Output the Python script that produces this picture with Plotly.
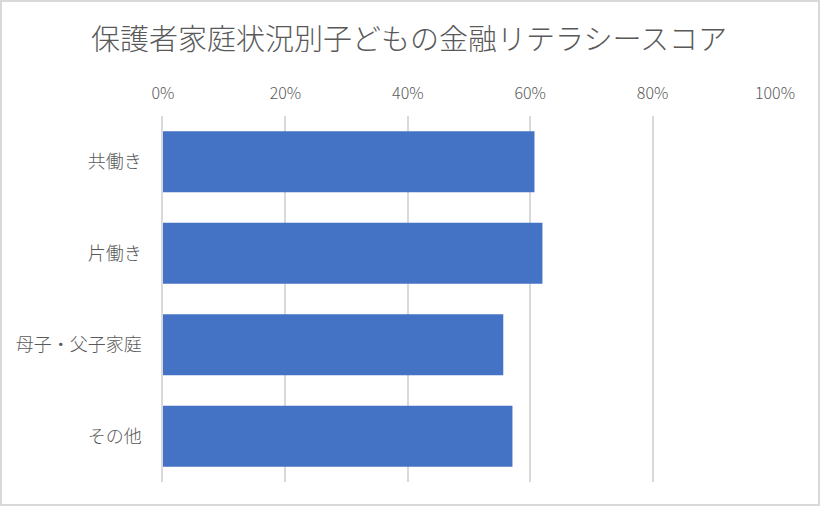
import plotly.graph_objects as go

categories = ["共働き", "片働き", "母子・父子家庭", "その他"]
scores = [0.607, 0.620, 0.556, 0.571]
tick_vals = [0, 0.2, 0.4, 0.6, 0.8, 1.0]
tick_text = ["0%", "20%", "40%", "60%", "80%", "100%"]
title_text = "保護者家庭状況別子どもの金融リテラシースコア"

W, H = 820, 506
ml, mr, mt, mb = 163, 45, 116, 24
pw, ph = W - ml - mr, H - mt - mb

font_family = "Noto Sans CJK JP, Noto Sans, sans-serif"
grey = "#595959"

fig = go.Figure(go.Bar(
    y=categories, x=scores, orientation="h",
    marker=dict(color="#4472C4", line=dict(width=0)),
    hoverinfo="skip",
))

fig.update_layout(
    width=W, height=H,
    margin=dict(l=ml, r=mr, t=mt, b=mb),
    paper_bgcolor="white", plot_bgcolor="white",
    bargap=0.333,
    showlegend=False,
    font=dict(family=font_family, color=grey, size=16),
    title=dict(text=title_text, x=409 / W, xanchor="center", y=1 - 40 / H, yanchor="middle",
               font=dict(size=29, color=grey, family=font_family, weight=300)),
    xaxis=dict(
        side="top", range=[0, 1], tickvals=tick_vals, ticktext=tick_text,
        showgrid=True, gridcolor="#d9d9d9", gridwidth=1.5,
        zeroline=False, showline=False, ticks="",
        ticklabelstandoff=13, tickfont=dict(size=16, color=grey, weight=300),
        fixedrange=True,
    ),
    yaxis=dict(
        autorange="reversed", showgrid=False, zeroline=False,
        showline=True, linecolor="#d9d9d9", linewidth=1.5,
        ticks="", ticklabelstandoff=16,
        tickfont=dict(size=18, color=grey, weight=300),
        fixedrange=True,
    ),
    shapes=[dict(
        type="rect", xref="paper", yref="paper",
        x0=(-ml + 1) / pw, x1=1 + (mr - 1) / pw,
        y0=(-mb + 1) / ph, y1=1 + (mt - 1) / ph,
        line=dict(color="#d9d9d9", width=2), fillcolor="rgba(0,0,0,0)", layer="below",
    )],
)

fig.write_html("out.html")
